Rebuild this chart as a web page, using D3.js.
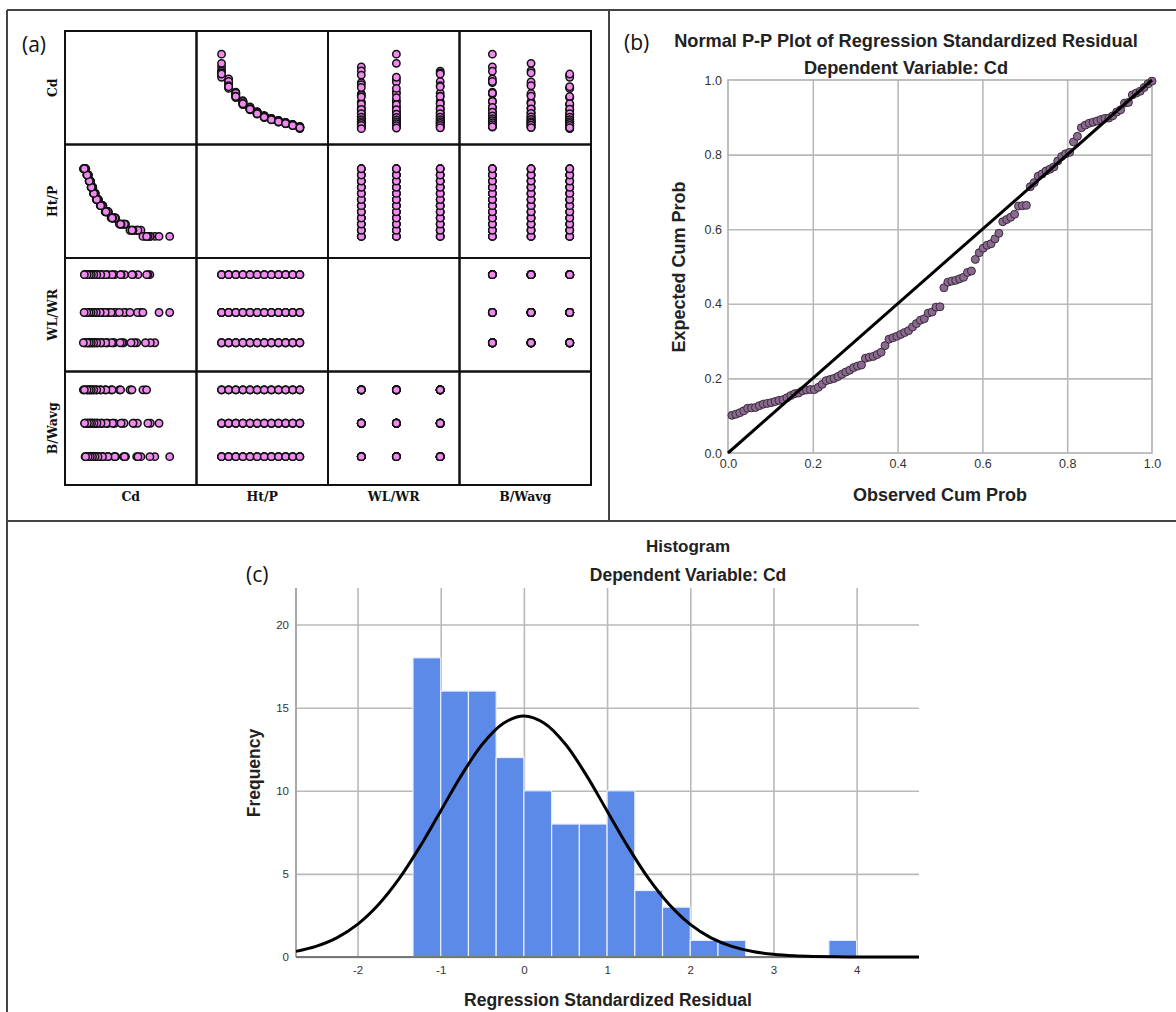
<!DOCTYPE html>
<html>
<head>
<meta charset="utf-8">
<script src="https://cdn.jsdelivr.net/npm/d3@7"></script>
<style>
  body { margin: 0; background: #fff; }
  svg { display: block; }
  .frame { stroke: #444; stroke-width: 2; }
  .cell { fill: none; stroke: #111; stroke-width: 2; }
  .dot-a { fill: #ef8aef; stroke: #111; stroke-width: 1.5; }
  .lab-a { font-family: "DejaVu Serif", serif; font-weight: bold; font-size: 12.5px; fill: #111; }
  .panel-tag { font-family: "Open Sans", sans-serif; font-size: 21px; fill: #111; }
  .title { font-family: "Liberation Sans", Arial, sans-serif; font-weight: bold; font-size: 18.2px; fill: #222; }
  .axis-title { font-family: "Liberation Sans", Arial, sans-serif; font-weight: bold; font-size: 18px; fill: #222; }
  .tick text { font-family: "Liberation Sans", Arial, sans-serif; font-size: 12.5px; fill: #333; }
  .hist .tick text { font-size: 11.5px; }
  .grid line { stroke: #b9b9b9; stroke-width: 1.6; }
  .grid path { display: none; }
  .pp-frame { fill: none; stroke: #b0b0b0; stroke-width: 1.6; }
  .dot-b { fill: #8a6a8f; stroke: #3a2b3c; stroke-width: 1; }
  .diag { stroke: #000; stroke-width: 3; }
  .bar { fill: #5b8ae9; stroke: #e8eefc; stroke-width: 1.2; }
  .normal { fill: none; stroke: #000; stroke-width: 3; }
</style>
</head>
<body>
<div id="chart"></div>
<script>
// ---- (a) scatter matrix ----
var matrixVars = ['Cd', 'Ht/P', 'WL/WR', 'B/Wavg'];
var htpLevels = [0.10, 0.15, 0.20, 0.25, 0.30, 0.35, 0.40, 0.45, 0.50, 0.55, 0.60, 0.65];
var wlwrLevels = [0.50, 0.70, 0.95];
var bwLevels = [0.40, 0.60, 0.80];
// Cd for each (WL/WR, B/Wavg) group, one value per Ht/P level
var cdByGroup = [
  [0.888, 0.815, 0.762, 0.724, 0.697, 0.676, 0.658, 0.646, 0.636, 0.627, 0.618, 0.607],
  [0.870, 0.805, 0.756, 0.720, 0.694, 0.673, 0.656, 0.644, 0.634, 0.626, 0.617, 0.606],
  [0.850, 0.792, 0.748, 0.714, 0.690, 0.670, 0.654, 0.642, 0.632, 0.624, 0.615, 0.600],
  [0.948, 0.832, 0.770, 0.730, 0.701, 0.679, 0.661, 0.648, 0.638, 0.629, 0.620, 0.610],
  [0.905, 0.818, 0.764, 0.726, 0.699, 0.677, 0.659, 0.647, 0.637, 0.628, 0.619, 0.608],
  [0.840, 0.788, 0.745, 0.712, 0.688, 0.668, 0.652, 0.641, 0.631, 0.623, 0.614, 0.603],
  [0.868, 0.820, 0.766, 0.727, 0.699, 0.677, 0.659, 0.647, 0.637, 0.628, 0.619, 0.609],
  [0.860, 0.800, 0.752, 0.718, 0.692, 0.671, 0.655, 0.643, 0.633, 0.625, 0.616, 0.605],
  [0.855, 0.796, 0.750, 0.716, 0.691, 0.670, 0.654, 0.642, 0.632, 0.624, 0.615, 0.604]
];

// ---- (b) normal P-P plot: expected cum prob of the sorted residuals ----
var ppExpected = [
  0.101, 0.104, 0.108, 0.113, 0.120, 0.121, 0.122, 0.127, 0.131, 0.133,
  0.135, 0.138, 0.141, 0.143, 0.148, 0.154, 0.159, 0.161, 0.167, 0.169,
  0.170, 0.170, 0.176, 0.184, 0.194, 0.197, 0.200, 0.205, 0.211, 0.217,
  0.222, 0.229, 0.233, 0.236, 0.254, 0.257, 0.259, 0.264, 0.270, 0.288,
  0.305, 0.309, 0.313, 0.318, 0.323, 0.328, 0.338, 0.347, 0.356, 0.360,
  0.375, 0.378, 0.391, 0.392, 0.443, 0.458, 0.461, 0.463, 0.467, 0.471,
  0.484, 0.488, 0.519, 0.537, 0.549, 0.557, 0.561, 0.574, 0.589, 0.620,
  0.626, 0.632, 0.640, 0.662, 0.663, 0.664, 0.714, 0.725, 0.742, 0.748,
  0.756, 0.761, 0.767, 0.783, 0.795, 0.802, 0.806, 0.834, 0.849, 0.872,
  0.879, 0.884, 0.887, 0.890, 0.894, 0.897, 0.898, 0.904, 0.914, 0.920,
  0.938, 0.940, 0.960, 0.965, 0.970, 0.980, 0.990, 0.997
];
var ppTicks = [0, 0.2, 0.4, 0.6, 0.8, 1.0];

// ---- (c) histogram ----
var binLow = [-4/3, -1, -2/3, -1/3, 0, 1/3, 2/3, 1, 4/3, 5/3, 2, 7/3, 11/3];
var binCount = [18, 16, 16, 12, 10, 8, 8, 10, 4, 3, 1, 1, 1];
var binWidth = 1/3;
var curveX = [-2.74, -2.5, -2.25, -2.0, -1.75, -1.5, -1.25, -1.0, -0.75, -0.5, -0.25, 0,
  0.25, 0.5, 0.75, 1.0, 1.25, 1.5, 1.75, 2.0, 2.25, 2.5, 2.75, 3.0, 3.25, 3.5, 3.75, 4.0, 4.25, 4.5, 4.75];
var curveY = [0.34, 0.64, 1.15, 1.96, 3.14, 4.71, 6.64, 8.79, 10.94, 12.80, 14.05, 14.50,
  14.05, 12.80, 10.94, 8.79, 6.64, 4.71, 3.14, 1.96, 1.15, 0.64, 0.33, 0.16, 0.07, 0.03, 0.01, 0.005, 0, 0, 0];
var histXTicks = [-2, -1, 0, 1, 2, 3, 4];
var histYTicks = [0, 5, 10, 15, 20];


var svg = d3.select('#chart').append('svg')
    .attr('width', 1176)
    .attr('height', 1012);

// page frame lines
[[7, 10, 1176, 10], [7, 10, 7, 1012], [609, 10, 609, 521], [7, 521, 1176, 521]].forEach(function(l) {
  svg.append('line').attr('class', 'frame')
      .attr('x1', l[0]).attr('y1', l[1]).attr('x2', l[2]).attr('y2', l[3]);
});


ScatterMatrixVis = function(_svg, _data) {
  this.svg = _svg;
  this.data = _data;
  this.initVis();
};
ScatterMatrixVis.prototype.initVis = function() {
  var vis = this;

  vis.left = 65;
  vis.top = 31;
  vis.cellW = 131.5;
  vis.cellH = 113.5;

  // every variable keeps its own range, padded like the SPSS matrix
  vis.domains = {
    'Cd': [0.526, 1.056],
    'Ht/P': [-0.076, 0.848],
    'WL/WR': [0.31, 1.06],
    'B/Wavg': [0.23, 0.91]
  };

  vis.g = vis.svg.append('g').attr('class', 'matrix');
  vis.drawVis();
};
ScatterMatrixVis.prototype.drawVis = function() {
  var vis = this;

  matrixVars.forEach(function(rowVar, r) {
    matrixVars.forEach(function(colVar, c) {
      var cell = vis.g.append('g')
          .attr('transform', 'translate(' + (vis.left + c * vis.cellW) + ',' + (vis.top + r * vis.cellH) + ')');
      cell.append('rect')
          .attr('class', 'cell')
          .attr('width', vis.cellW)
          .attr('height', vis.cellH);
      if (r === c) return;

      var x = d3.scaleLinear().domain(vis.domains[colVar]).range([0, vis.cellW]);
      var y = d3.scaleLinear().domain(vis.domains[rowVar]).range([vis.cellH, 0]);
      cell.selectAll('circle')
          .data(vis.data)
          .enter()
          .append('circle')
            .attr('class', 'dot-a')
            .attr('cx', d => x(d[colVar]))
            .attr('cy', d => y(d[rowVar]))
            .attr('r', 3.7);
    });
  });

  // variable names
  vis.g.selectAll('.col-lab')
      .data(matrixVars)
      .enter()
      .append('text')
        .attr('class', 'lab-a')
        .attr('x', (d, i) => vis.left + (i + 0.5) * vis.cellW)
        .attr('y', vis.top + 4 * vis.cellH + 16)
        .attr('text-anchor', 'middle')
        .text(d => d);
  vis.g.selectAll('.row-lab')
      .data(matrixVars)
      .enter()
      .append('text')
        .attr('class', 'lab-a')
        .attr('transform', (d, i) => 'translate(57,' + (vis.top + (i + 0.5) * vis.cellH) + ') rotate(-90)')
        .attr('text-anchor', 'middle')
        .text(d => d);

  vis.svg.append('text').attr('class', 'panel-tag').attr('x', 22).attr('y', 52).text('(a)');
};


PPPlotVis = function(_svg, _data) {
  this.svg = _svg;
  this.data = _data;
  this.initVis();
};
PPPlotVis.prototype.initVis = function() {
  var vis = this;

  vis.x = d3.scaleLinear().domain([0, 1]).range([728, 1152]);
  vis.y = d3.scaleLinear().domain([0, 1]).range([453, 80]);

  vis.displayData = vis.data.map((d, i) => ({obs: (i + 1) / vis.data.length, exp: d}));

  vis.g = vis.svg.append('g').attr('class', 'pp');
  vis.drawVis();
};
PPPlotVis.prototype.drawVis = function() {
  var vis = this;
  var w = vis.x.range()[1] - vis.x.range()[0];
  var h = vis.y.range()[0] - vis.y.range()[1];

  vis.g.append('g').attr('class', 'grid')
      .attr('transform', 'translate(' + vis.x.range()[0] + ',0)')
      .call(d3.axisLeft(vis.y).tickValues(ppTicks.slice(1, -1)).tickSize(-w).tickFormat(''));
  vis.g.append('g').attr('class', 'grid')
      .attr('transform', 'translate(0,' + vis.y.range()[0] + ')')
      .call(d3.axisBottom(vis.x).tickValues(ppTicks.slice(1, -1)).tickSize(-h).tickFormat(''));
  vis.g.append('rect').attr('class', 'pp-frame')
      .attr('x', vis.x.range()[0]).attr('y', vis.y.range()[1])
      .attr('width', w).attr('height', h);

  var yAxis = vis.g.append('g')
      .attr('transform', 'translate(' + vis.x.range()[0] + ',0)')
      .call(d3.axisLeft(vis.y).tickValues(ppTicks).tickFormat(d3.format('.1f')).tickSize(0).tickPadding(6));
  var xAxis = vis.g.append('g')
      .attr('transform', 'translate(0,' + vis.y.range()[0] + ')')
      .call(d3.axisBottom(vis.x).tickValues(ppTicks).tickFormat(d3.format('.1f')).tickSize(0).tickPadding(6));
  yAxis.select('.domain').remove();
  xAxis.select('.domain').remove();

  vis.g.selectAll('.dot-b')
      .data(vis.displayData)
      .enter()
      .append('circle')
        .attr('class', 'dot-b')
        .attr('cx', d => vis.x(d.obs))
        .attr('cy', d => vis.y(d.exp))
        .attr('r', 4);

  vis.g.append('line').attr('class', 'diag')
      .attr('x1', vis.x(0)).attr('y1', vis.y(0))
      .attr('x2', vis.x(1)).attr('y2', vis.y(1));

  vis.g.append('text').attr('class', 'title').attr('x', 906).attr('y', 47)
      .attr('text-anchor', 'middle').text('Normal P-P Plot of Regression Standardized Residual');
  vis.g.append('text').attr('class', 'title').attr('x', 906).attr('y', 74)
      .attr('text-anchor', 'middle').text('Dependent Variable: Cd');
  vis.g.append('text').attr('class', 'axis-title')
      .attr('transform', 'translate(685,267) rotate(-90)')
      .attr('text-anchor', 'middle').text('Expected Cum Prob');
  vis.g.append('text').attr('class', 'axis-title').attr('x', 940).attr('y', 501)
      .attr('text-anchor', 'middle').text('Observed Cum Prob');

  vis.svg.append('text').attr('class', 'panel-tag').attr('x', 624).attr('y', 50).text('(b)');
};


HistogramVis = function(_svg) {
  this.svg = _svg;
  this.initVis();
};
HistogramVis.prototype.initVis = function() {
  var vis = this;

  vis.x = d3.scaleLinear().domain([-2.74, 4.75]).range([296, 919]);
  vis.y = d3.scaleLinear().domain([0, 22.2]).range([957, 588]);

  vis.bins = binLow.map((d, i) => ({x0: d, x1: d + binWidth, n: binCount[i]}));
  vis.curve = curveX.map((d, i) => [d, curveY[i]]);

  vis.line = d3.line()
      .x(d => vis.x(d[0]))
      .y(d => vis.y(d[1]))
      .curve(d3.curveCatmullRom);

  vis.g = vis.svg.append('g').attr('class', 'hist');
  vis.drawVis();
};
HistogramVis.prototype.drawVis = function() {
  var vis = this;
  var x0 = vis.x.range()[0], w = vis.x.range()[1] - x0;
  var h = vis.y.range()[0] - vis.y.range()[1];

  vis.g.append('g').attr('class', 'grid')
      .attr('transform', 'translate(' + x0 + ',0)')
      .call(d3.axisLeft(vis.y).tickValues(histYTicks).tickSize(-w).tickFormat(''));
  vis.g.append('g').attr('class', 'grid')
      .attr('transform', 'translate(0,' + vis.y.range()[0] + ')')
      .call(d3.axisBottom(vis.x).tickValues(histXTicks).tickSize(-h).tickFormat(''));
  vis.g.append('line').attr('class', 'frame')
      .style('stroke', '#a8a8a8')
      .attr('x1', x0).attr('x2', x0)
      .attr('y1', vis.y.range()[1]).attr('y2', vis.y.range()[0]);

  vis.g.selectAll('.bar')
      .data(vis.bins)
      .enter()
      .append('rect')
        .attr('class', 'bar')
        .attr('x', d => vis.x(d.x0))
        .attr('width', d => vis.x(d.x1) - vis.x(d.x0))
        .attr('y', d => vis.y(d.n))
        .attr('height', d => vis.y(0) - vis.y(d.n));

  vis.g.append('line')
      .style('stroke', '#777').style('stroke-width', 2)
      .attr('x1', x0).attr('x2', x0 + w)
      .attr('y1', vis.y(0)).attr('y2', vis.y(0));

  vis.g.append('path').attr('class', 'normal').attr('d', vis.line(vis.curve));

  // SPSS prints a plain hyphen for negatives
  var plain = d => String(d);
  var yAxis = vis.g.append('g')
      .attr('transform', 'translate(' + x0 + ',0)')
      .call(d3.axisLeft(vis.y).tickValues(histYTicks).tickFormat(plain).tickSize(0).tickPadding(7));
  var xAxis = vis.g.append('g')
      .attr('transform', 'translate(0,' + vis.y.range()[0] + ')')
      .call(d3.axisBottom(vis.x).tickValues(histXTicks).tickFormat(plain).tickSize(0).tickPadding(9));
  yAxis.select('.domain').remove();
  xAxis.select('.domain').remove();

  vis.g.append('text').attr('class', 'title').attr('x', 688).attr('y', 552)
      .style('font-size', '17px')
      .attr('text-anchor', 'middle').text('Histogram');
  vis.g.append('text').attr('class', 'title').attr('x', 688).attr('y', 581)
      .style('font-size', '17.5px')
      .attr('text-anchor', 'middle').text('Dependent Variable: Cd');
  vis.g.append('text').attr('class', 'axis-title')
      .style('font-size', '17.5px')
      .attr('transform', 'translate(260,773) rotate(-90)')
      .attr('text-anchor', 'middle').text('Frequency');
  vis.g.append('text').attr('class', 'axis-title').attr('x', 608).attr('y', 1006)
      .style('font-size', '17.5px')
      .attr('text-anchor', 'middle').text('Regression Standardized Residual');

  vis.svg.append('text').attr('class', 'panel-tag').attr('x', 246).attr('y', 582).text('(c)');
};


var matrixData = [];
wlwrLevels.forEach(function(wl, wi) {
  bwLevels.forEach(function(bw, bi) {
    htpLevels.forEach(function(htp, hi) {
      matrixData.push({'Cd': cdByGroup[wi * 3 + bi][hi], 'Ht/P': htp, 'WL/WR': wl, 'B/Wavg': bw});
    });
  });
});

new ScatterMatrixVis(svg, matrixData);
new PPPlotVis(svg, ppExpected);
new HistogramVis(svg);
</script>
</body>
</html>
